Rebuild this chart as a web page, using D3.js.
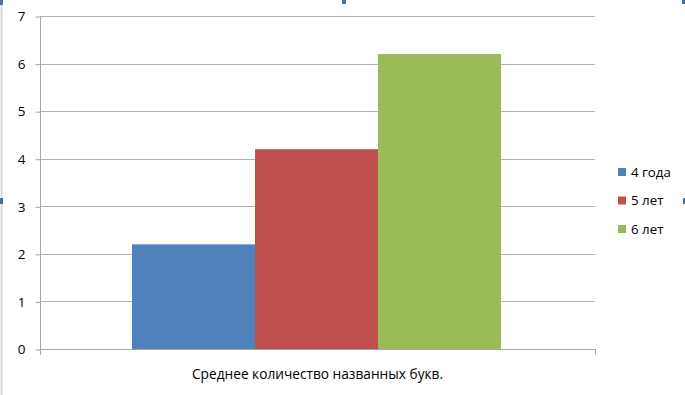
<!doctype html>
<html>
<head>
<meta charset="utf-8">
<style>
  body { margin: 0; background: #fff; }
  svg { display: block; font-family: "Open Sans", "Noto Sans", sans-serif; }
</style>
<script src="https://cdnjs.cloudflare.com/ajax/libs/d3/7.8.5/d3.min.js"></script>
</head>
<body>
<script>
  // data
  var category = "Среднее количество названных букв.";
  var series = ["4 года", "5 лет", "6 лет"];
  var values = [2.2, 4.2, 6.2];
  var colors = ["#4f81bd", "#c0504d", "#9bbb59"];
  var yTicks = [0, 1, 2, 3, 4, 5, 6, 7];

  var width = 685, height = 395;
  var plot = { left: 40, right: 595, top: 16, bottom: 349 };

  var svg = d3.select("body").append("svg").attr("width", width).attr("height", height);

  // frame + selection handles (word document look)
  svg.append("line").attr("x1", 1.5).attr("x2", 1.5).attr("y1", 0).attr("y2", height)
    .attr("stroke", "#d9d9d9").attr("stroke-width", 2);
  var handles = [[0, 0, 3, 5], [342, 0, 4, 4], [682, 0, 3, 4], [0, 198, 3, 6], [683, 198, 2, 6]];
  svg.selectAll(".handle").data(handles).enter().append("rect")
    .attr("x", function(d){ return d[0]; }).attr("y", function(d){ return d[1]; })
    .attr("width", function(d){ return d[2]; }).attr("height", function(d){ return d[3]; })
    .attr("fill", "#4a6fa5");

  var y = d3.scaleLinear().domain([0, 7]).range([plot.bottom, plot.top]);
  var x = d3.scaleBand().domain(series).range([132, 501]).padding(0);

  // gridlines
  svg.append("g").selectAll("line").data(yTicks).enter().append("line")
    .attr("x1", plot.left).attr("x2", plot.right)
    .attr("y1", function(d){ return Math.round(y(d)) + 0.5; })
    .attr("y2", function(d){ return Math.round(y(d)) + 0.5; })
    .attr("stroke", "#b3b3b3").attr("stroke-width", 1);

  // y axis
  var yAxis = svg.append("g")
    .attr("transform", "translate(" + (plot.left + 0.5) + ",0.5)")
    .call(d3.axisLeft(y).tickValues(yTicks).tickSize(5).tickPadding(10).tickFormat(d3.format("d")));
  yAxis.selectAll("path, line").attr("stroke", "#a6a6a6");
  yAxis.select(".domain").attr("d", "M-0," + plot.top + "V" + (plot.bottom + 5));
  yAxis.selectAll("text").attr("font-size", 13.5).attr("fill", "#000").attr("font-family", "Open Sans, sans-serif");

  // bars
  svg.append("g").selectAll("rect").data(values).enter().append("rect")
    .attr("x", function(d, i){ return x(series[i]); })
    .attr("y", function(d){ return y(d); })
    .attr("width", x.bandwidth())
    .attr("height", function(d){ return y(0) - y(d); })
    .attr("fill", function(d, i){ return colors[i]; });

  // bottom axis
  var bx = d3.scaleBand().domain([category]).range([plot.left, plot.right]);
  var xAxis = svg.append("g")
    .attr("transform", "translate(0," + (Math.round(y(0)) + 0.5) + ")")
    .call(d3.axisBottom(bx).tickSize(0).tickPadding(20));
  xAxis.select(".domain").attr("stroke", "#a6a6a6").attr("d", "M" + (plot.left + 0.5) + ",5V0H" + (plot.right + 0.5) + "V5");
  xAxis.selectAll("text").attr("font-size", 13.7).attr("fill", "#000").attr("font-family", "Open Sans, sans-serif");

  // legend
  var legend = svg.append("g").selectAll("g").data(series).enter().append("g")
    .attr("transform", function(d, i){ return "translate(618," + (168 + i * 28.5) + ")"; });
  legend.append("rect").attr("width", 8).attr("height", 8)
    .attr("fill", function(d, i){ return colors[i]; });
  legend.append("text").attr("x", 13).attr("y", 4).attr("dy", "0.35em")
    .attr("font-size", 13.3).text(function(d){ return d; });
</script>
</body>
</html>
